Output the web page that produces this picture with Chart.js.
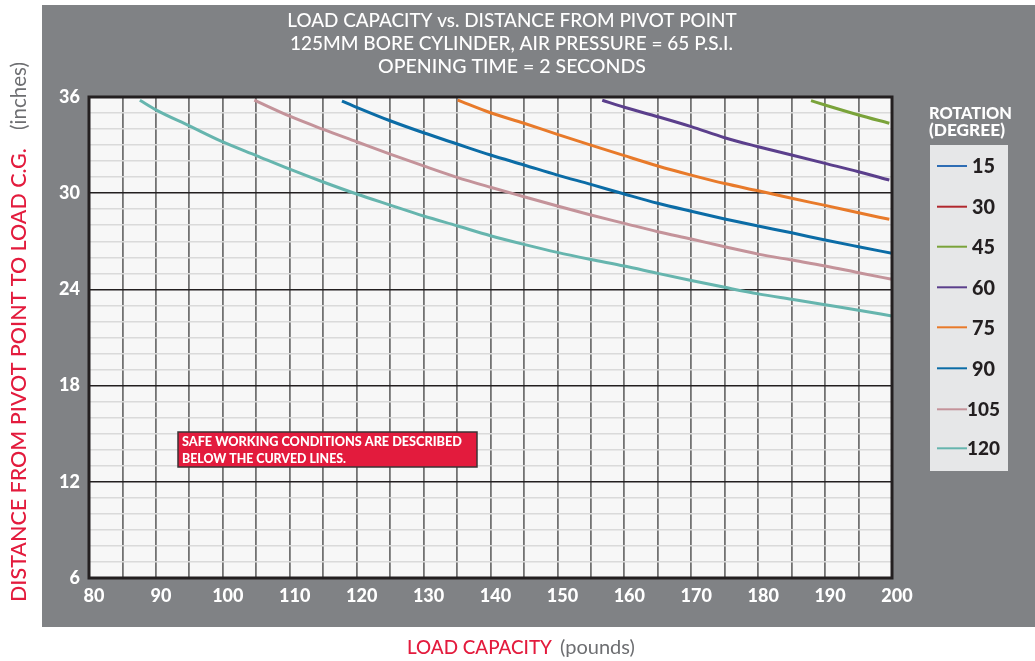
<!DOCTYPE html>
<html>
<head>
<meta charset="utf-8">
<script src="https://cdn.jsdelivr.net/npm/chart.js@4.4.1/dist/chart.umd.min.js"></script>
<style>
  html, body { margin: 0; padding: 0; background: #fff; }
  #wrap { width: 1035px; height: 661px; }
</style>
</head>
<body>
<div id="wrap"><canvas id="capChart" width="1035" height="661"></canvas></div>
<script>
// rotation angles (legend order)
const rotations = ['15', '30', '45', '60', '75', '90', '105', '120'];
const lineColors = ['#2e6db4', '#b1282e', '#7aa33a', '#5b3f8c', '#e87a2a', '#0b6ca6', '#c4939a', '#66b5ae'];

// load capacity (pounds) / distance (inches)
const load15 = [], dist15 = [];
const load30 = [], dist30 = [];
const load45 = [187.9, 190, 195, 199.6];
const dist45 = [35.77, 35.5, 34.88, 34.36];
const load60 = [156.7, 160, 165, 170, 175, 180, 185, 190, 195, 199.6];
const dist60 = [35.8, 35.36, 34.77, 34.15, 33.46, 32.9, 32.38, 31.86, 31.34, 30.82];
const load75 = [135.1, 140, 145, 150, 155, 160, 165, 170, 175, 180, 185, 190, 195, 199.6];
const dist75 = [35.81, 35.02, 34.36, 33.67, 33.0, 32.34, 31.7, 31.13, 30.6, 30.15, 29.68, 29.24, 28.78, 28.37];
const load90 = [117.8, 120, 125, 130, 135, 140, 145, 150, 155, 160, 165, 170, 175, 180, 185, 190, 195, 200];
const dist90 = [35.75, 35.36, 34.52, 33.77, 33.07, 32.38, 31.76, 31.13, 30.55, 29.95, 29.37, 28.87, 28.39, 27.95, 27.53, 27.08, 26.66, 26.25];
const load105 = [104.7, 110, 115, 120, 125, 130, 135, 140, 145, 150, 155, 160, 165, 170, 175, 180, 185, 190, 195, 200];
const dist105 = [35.8, 34.8, 33.98, 33.21, 32.44, 31.7, 30.99, 30.37, 29.78, 29.2, 28.64, 28.12, 27.6, 27.14, 26.66, 26.2, 25.83, 25.46, 25.04, 24.63];
const load120 = [87.6, 90, 95, 100, 105, 110, 115, 120, 125, 130, 135, 140, 145, 150, 155, 160, 165, 170, 175, 180, 185, 190, 195, 200];
const dist120 = [35.8, 35.2, 34.2, 33.2, 32.35, 31.5, 30.7, 29.95, 29.26, 28.58, 27.97, 27.35, 26.81, 26.31, 25.87, 25.46, 25.0, 24.56, 24.13, 23.72, 23.38, 23.04, 22.7, 22.34];

const loads = [load15, load30, load45, load60, load75, load90, load105, load120];
const dists = [dist15, dist30, dist45, dist60, dist75, dist90, dist105, dist120];

const titleLines = ['LOAD CAPACITY vs. DISTANCE FROM PIVOT POINT', '125MM BORE CYLINDER, AIR PRESSURE = 65 P.S.I.', 'OPENING TIME = 2 SECONDS'];
const noteLines = ['SAFE WORKING CONDITIONS ARE DESCRIBED', 'BELOW THE CURVED LINES.'];

const FONT = 'Lato, "Open Sans", sans-serif';
const RED = '#e31b3d';
const GREY_TXT = '#6d6e71';
const PANEL = '#808285';

const datasets = rotations.map((r, i) => ({
  label: r,
  data: loads[i].map((x, j) => ({ x: x, y: dists[i][j] })),
  borderColor: lineColors[i],
  backgroundColor: lineColors[i],
  borderWidth: 3,
  pointRadius: 0,
  cubicInterpolationMode: 'monotone',
  fill: false
}));

// draw text stretched/shrunk to a given width
function fitText(c, text, x, y, weight, size, w) {
  c.font = weight + ' ' + size + 'px ' + FONT;
  const m = c.measureText(text).width;
  if (w) {
    c.font = weight + ' ' + (size * w / m).toFixed(2) + 'px ' + FONT;
  }
  c.fillText(text, x, y);
}

const decorPlugin = {
  id: 'decor',
  beforeDraw(chart) {
    const c = chart.ctx, a = chart.chartArea;
    c.save();
    c.fillStyle = '#ffffff';
    c.fillRect(0, 0, chart.width, chart.height);
    c.fillStyle = PANEL;
    c.fillRect(42, 5, chart.width - 42, 622);
    c.fillStyle = '#f7f7f7';
    c.fillRect(a.left, a.top, a.right - a.left, a.bottom - a.top);
    c.restore();
  },
  afterDatasetsDraw(chart) {
    const c = chart.ctx, a = chart.chartArea;
    c.save();
    // frame
    c.strokeStyle = '#231f20';
    c.lineWidth = 3;
    c.strokeRect(a.left, a.top, a.right - a.left, a.bottom - a.top);

    // title
    c.fillStyle = '#ffffff';
    c.textAlign = 'center';
    c.textBaseline = 'middle';
    fitText(c, titleLines[0], 512, 21, '500', 18, 450);
    fitText(c, titleLines[1], 511.5, 44, '500', 18, 443);
    fitText(c, titleLines[2], 512, 67, '500', 18, 268);

    // note box
    c.fillStyle = '#e31b3d';
    c.fillRect(178, 432, 299, 35);
    c.strokeStyle = '#3a3536';
    c.lineWidth = 1.5;
    c.strokeRect(178, 432, 299, 35);
    c.fillStyle = '#ffffff';
    c.textAlign = 'left';
    fitText(c, noteLines[0], 182, 441.5, '900', 12, 280);
    fitText(c, noteLines[1], 182, 459, '900', 12, 164);

    // y axis title
    c.save();
    c.translate(19, 602);
    c.rotate(-Math.PI / 2);
    c.fillStyle = RED;
    c.textAlign = 'left';
    fitText(c, 'DISTANCE FROM PIVOT POINT TO LOAD C.G.', 0, 0, '500', 20, 454);
    c.fillStyle = GREY_TXT;
    fitText(c, '(inches)', 472, 0, 'normal', 18, 68);
    c.restore();

    // x axis title
    c.fillStyle = RED;
    c.textAlign = 'left';
    fitText(c, 'LOAD CAPACITY', 407, 648, '500', 18, 145);
    c.fillStyle = GREY_TXT;
    fitText(c, '(pounds)', 560, 648, 'normal', 17, 75);

    // legend
    c.fillStyle = '#ffffff';
    fitText(c, 'ROTATION', 929, 114, '900', 15, 83);
    fitText(c, '(DEGREE)', 929, 130, '900', 15, 76);
    c.fillStyle = '#e6e7e8';
    c.fillRect(930, 145, 78, 326);
    const rowY = [166, 206.7, 246.7, 287.3, 327.3, 368.3, 409.3, 448.3];
    chart.data.datasets.forEach((ds, i) => {
      c.strokeStyle = ds.borderColor;
      c.lineWidth = 2;
      c.beginPath();
      c.moveTo(937, rowY[i]);
      c.lineTo(967, rowY[i]);
      c.stroke();
      c.fillStyle = '#231f20';
      const long = ds.label.length > 2;
      fitText(c, ds.label, long ? 967 : 972, rowY[i] + 1, '900', 18, long ? 33 : 23);
    });
    c.restore();
  }
};

const ctx = document.getElementById('capChart').getContext('2d');
const capChart = new Chart(ctx, {
  type: 'line',
  data: { datasets: datasets },
  options: {
    responsive: false,
    animation: false,
    devicePixelRatio: 1,
    layout: { padding: { left: 0, top: 97, right: 143, bottom: 0 } },
    plugins: {
      legend: { display: false },
      title: { display: false },
      tooltip: { enabled: false }
    },
    scales: {
      x: {
        type: 'linear',
        min: 80,
        max: 200,
        afterFit: s => { s.height = 83; },
        ticks: {
          stepSize: 5,
          autoSkip: false,
          maxRotation: 0,
          padding: 7,
          labelOffset: 5,
          color: '#ffffff',
          font: { family: FONT, size: 18, weight: '900' },
          callback: v => (v % 10 === 0 ? v : '')
        },
        grid: { color: '#727272', lineWidth: 1.8, drawTicks: false },
        border: { display: false }
      },
      y: {
        min: 6,
        max: 36,
        afterFit: s => { s.width = 89; },
        ticks: {
          stepSize: 1,
          autoSkip: false,
          padding: 9,
          color: '#ffffff',
          font: { family: FONT, size: 18, weight: '900' },
          callback: v => (v % 6 === 0 ? v : '')
        },
        grid: {
          color: c => (c.tick && c.tick.value % 6 === 0 ? '#231f20' : '#dadada'),
          lineWidth: 1.6,
          drawTicks: false
        },
        border: { display: false }
      }
    }
  },
  plugins: [decorPlugin]
});
</script>
</body>
</html>
